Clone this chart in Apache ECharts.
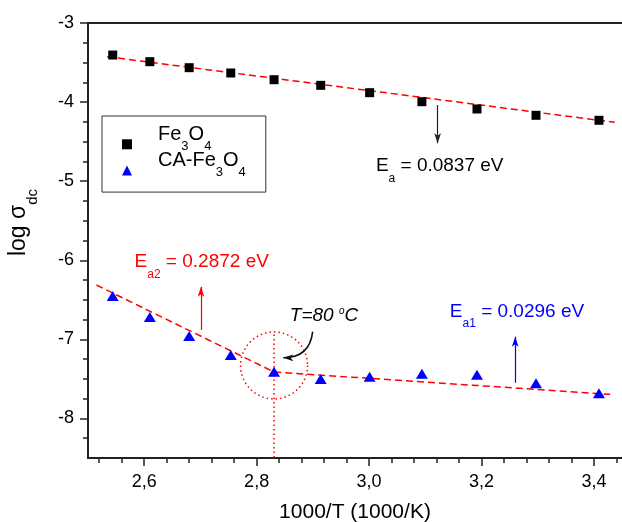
<!DOCTYPE html>
<html>
<head>
<meta charset="utf-8">
<script src="https://cdn.jsdelivr.net/npm/echarts@6/dist/echarts.min.js"></script>
<style>
  html, body { margin: 0; padding: 0; background: #fff; }
  #chart { width: 622px; height: 522px; }
</style>
</head>
<body>
<div id="chart"></div>
<script>
// Reciprocal temperature, 1000/T (1000/K), shared by both samples
const invT = [2.544, 2.610, 2.680, 2.754, 2.831, 2.914, 3.001, 3.094, 3.192, 3.297, 3.409];
// log of dc conductivity
const logSigmaFe3O4 = [-3.405, -3.489, -3.565, -3.632, -3.717, -3.788, -3.881, -3.995, -4.087, -4.167, -4.230];
const logSigmaCAFe3O4 = [-6.452, -6.717, -6.958, -7.198, -7.409, -7.501, -7.472, -7.434, -7.447, -7.556, -7.680];

// Arrhenius fit lines (end points, and the break point for the coated sample)
const fitFe3O4X = [2.534, 3.437];
const fitFe3O4Y = [-3.426, -4.256];
const fitCAX = [2.515, 2.831, 3.429];
const fitCAY = [-6.313, -7.413, -7.695];

// Transition at 80 °C: guide line and circle
const transitionX = 2.831;
const transitionGuideY = [-6.94, -8.5];
const transitionCircleY = -7.33;

// Arrows pointing at the fits
const arrowFe = [[3.122, -4.037], [3.122, -4.521]];
const arrowEa2 = [[2.701, -6.882], [2.701, -6.334]];
const arrowEa1 = [[3.260, -7.548], [3.260, -6.966]];
const arrowT = [[2.8997, -6.903], [2.8474, -7.232]];

// Annotation texts and their anchors
const noteText = [
  '{m|E}{s|a}{m| = 0.0837 eV}',
  '{m|E}{s|a2}{m| = 0.2872 eV}',
  '{m|E}{s|a1}{m| = 0.0296 eV}',
  '{i|T=80 }{o|o}{i|C}'
];
const noteX = [3.1257, 2.7023, 3.2632, 2.9199];
const noteY = [-4.808, -6.018, -6.650, -6.706];
const noteColor = ['#000000', '#ff0000', '#0000ff', '#000000'];

// Axis ticks
const xTicks = [2.6, 2.8, 3.0, 3.2, 3.4];
const xMinorTicks = [2.52, 2.56, 2.64, 2.68, 2.72, 2.76, 2.84, 2.88, 2.92, 2.96,
                     3.04, 3.08, 3.12, 3.16, 3.24, 3.28, 3.32, 3.36, 3.44];
const yTicks = [-8, -7, -6, -5, -4, -3];
const yMinorTicks = [-8.25, -7.75, -7.5, -7.25, -6.75, -6.5, -6.25, -5.75, -5.5, -5.25,
                     -4.75, -4.5, -4.25, -3.75, -3.5, -3.25];

// Legend entries (series names and how they are written)
const legendNames = ['Fe3O4', 'CA-Fe3O4'];
const legendLabels = ['{g| }{m|Fe}{s|3}{m|O}{s|4}', '{g| }{m|CA-Fe}{s|3}{m|O}{s|4}'];

const FONT = "'Liberation Sans', Arial, Helvetica, sans-serif";
const AXIS = '#222222';
const RED = '#ff0000';

// Rich-text styles: main text top-aligned, subscript pushed down by padding
function subRich(size, subSize, drop, padBottom, color) {
  const c = color ? { color: color } : {};
  return {
    m: Object.assign({ fontFamily: FONT, fontSize: size, lineHeight: size, verticalAlign: 'top' }, c),
    s: Object.assign({ fontFamily: FONT, fontSize: subSize, verticalAlign: 'top',
         padding: [size / 2 + drop - subSize / 2, 0, padBottom || 0, 0] }, c)
  };
}

function noteRich(color) {
  return Object.assign(subRich(19, 12, 12.5, 0, color), {
    i: { fontFamily: FONT, fontSize: 19, lineHeight: 19, fontStyle: 'italic', verticalAlign: 'top', color: color },
    o: { fontFamily: FONT, fontSize: 10, lineHeight: 10, fontStyle: 'italic', verticalAlign: 'top', color: color }
  });
}

const zip = (xs, ys) => xs.map((x, i) => [x, ys[i]]);

// Legend text is centred on its icon as a whole (main line plus subscripts)
const legendRich = Object.assign(subRich(20, 13, 12, 10.7, '#000'), {
  g: { fontFamily: FONT, fontSize: 20, lineHeight: 20, verticalAlign: 'top', width: 21 }
});

const chart = echarts.init(document.getElementById('chart'), null, { renderer: 'canvas' });

const xBase = { type: 'value', min: 2.5, max: 3.45, splitLine: { show: false } };
const yBase = { type: 'value', min: -8.5, max: -3, splitLine: { show: false } };

chart.setOption({
  animation: false,
  backgroundColor: '#ffffff',
  textStyle: { fontFamily: FONT, color: '#000' },
  grid: { left: 88, right: 0, top: 23, bottom: 64, outerBoundsMode: 'none', containLabel: false },
  legend: {
    orient: 'vertical',
    left: 102,
    top: 116,
    padding: [8.7, 20, 12.8, 20],
    itemGap: -2.4,
    itemWidth: 10,
    itemHeight: 10,
    borderColor: '#333',
    borderWidth: 1,
    backgroundColor: '#fff',
    selectedMode: false,
    data: [
      { name: legendNames[0], icon: 'rect', itemStyle: { opacity: 1 } },
      { name: legendNames[1], icon: 'triangle', itemStyle: { opacity: 1 } }
    ],
    formatter: name => legendLabels[legendNames.indexOf(name)],
    textStyle: { color: '#000', fontFamily: FONT, fontSize: 20, rich: legendRich }
  },
  xAxis: [
    Object.assign({}, xBase, {
      position: 'bottom',
      axisLine: { show: true, onZero: false, lineStyle: { color: AXIS, width: 2 } },
      axisTick: { show: true, inside: false, customValues: xTicks, length: 8,
                  lineStyle: { color: AXIS, width: 1.5 } },
      axisLabel: { show: true, customValues: xTicks, fontSize: 18, color: '#000', margin: 15,
                   fontFamily: FONT, formatter: v => v.toFixed(1).replace('.', ',') },
      name: '1000/T (1000/K)',
      nameLocation: 'middle',
      nameGap: 44,
      nameTextStyle: { fontSize: 21, color: '#000', fontFamily: FONT }
    }),
    Object.assign({}, xBase, {
      position: 'bottom',
      axisLine: { show: false, onZero: false },
      axisTick: { show: true, inside: false, customValues: xMinorTicks, length: 5,
                  lineStyle: { color: AXIS, width: 1.5 } },
      axisLabel: { show: false }
    }),
    Object.assign({}, xBase, {
      position: 'top',
      axisLine: { show: true, onZero: false, lineStyle: { color: AXIS, width: 2 } },
      axisTick: { show: false },
      axisLabel: { show: false }
    })
  ],
  yAxis: [
    Object.assign({}, yBase, {
      position: 'left',
      axisLine: { show: true, onZero: false, lineStyle: { color: AXIS, width: 2 } },
      axisTick: { show: true, inside: false, customValues: yTicks, length: 8,
                  lineStyle: { color: AXIS, width: 1.5 } },
      axisLabel: { show: true, customValues: yTicks, fontSize: 18, color: '#000', margin: 14,
                   fontFamily: FONT, formatter: v => String(v) }
    }),
    Object.assign({}, yBase, {
      position: 'left',
      axisLine: { show: false, onZero: false },
      axisTick: { show: true, inside: false, customValues: yMinorTicks, length: 5,
                  lineStyle: { color: AXIS, width: 1.5 } },
      axisLabel: { show: false }
    })
  ],
  graphic: [
    {
      type: 'text',
      x: 24,
      y: 222.5,
      rotation: Math.PI / 2,
      silent: true,
      style: {
        text: '{m|log σ}{s|dc}',
        rich: subRich(23, 15, 14, 0, '#000'),
        fill: '#000',
        align: 'center',
        verticalAlign: 'middle',
        fontFamily: FONT
      }
    }
  ],
  series: [
    {
      name: 'fit Fe3O4',
      type: 'line',
      data: zip(fitFe3O4X, fitFe3O4Y),
      symbol: 'none',
      silent: true,
      lineStyle: { color: RED, width: 1.5, type: [7, 4] },
      z: 2
    },
    {
      name: 'fit CA-Fe3O4',
      type: 'line',
      data: zip(fitCAX, fitCAY),
      symbol: 'none',
      silent: true,
      lineStyle: { color: RED, width: 1.5, type: [7, 4] },
      z: 2
    },
    {
      name: 'transition guide',
      type: 'line',
      data: [[transitionX, transitionGuideY[0]], [transitionX, transitionGuideY[1]]],
      symbol: 'none',
      silent: true,
      lineStyle: { color: RED, width: 1.5, type: [1.5, 3] },
      z: 2
    },
    {
      name: 'transition circle',
      type: 'scatter',
      data: [[transitionX, transitionCircleY]],
      symbol: 'circle',
      symbolSize: 67,
      silent: true,
      itemStyle: { color: 'transparent', borderColor: RED, borderWidth: 1.5, borderType: [1.5, 3], opacity: 1 },
      z: 2
    },
    {
      name: legendNames[0],
      type: 'scatter',
      data: zip(invT, logSigmaFe3O4),
      symbol: 'rect',
      symbolSize: 9,
      itemStyle: { color: '#000000', opacity: 1 },
      z: 5
    },
    {
      name: legendNames[1],
      type: 'scatter',
      data: zip(invT, logSigmaCAFe3O4),
      symbol: 'triangle',
      symbolSize: [12, 10],
      itemStyle: { color: '#0000ff', opacity: 1 },
      z: 5
    },
    {
      name: 'arrows',
      type: 'lines',
      coordinateSystem: 'cartesian2d',
      silent: true,
      symbol: ['none', 'arrow'],
      symbolSize: [0, [5, 10]],
      lineStyle: { width: 1.2, opacity: 1 },
      data: [
        { coords: arrowFe, lineStyle: { color: '#222222' } },
        { coords: arrowEa2, lineStyle: { color: RED } },
        { coords: arrowEa1, lineStyle: { color: '#0000ff' } },
        { coords: arrowT, lineStyle: { color: '#111111', width: 1.6, curveness: 0.45 } }
      ],
      z: 4
    },
    {
      name: 'notes',
      type: 'scatter',
      silent: true,
      symbolSize: 1,
      itemStyle: { color: 'transparent', opacity: 1 },
      label: { show: true, position: 'inside', fontFamily: FONT, opacity: 1 },
      data: noteText.map((t, i) => ({
        value: [noteX[i], noteY[i]],
        label: { formatter: t, color: noteColor[i], rich: noteRich(noteColor[i]),
                 offset: [0, i === 3 ? 0 : 4.5] }
      })),
      z: 6
    }
  ]
});
</script>
</body>
</html>
